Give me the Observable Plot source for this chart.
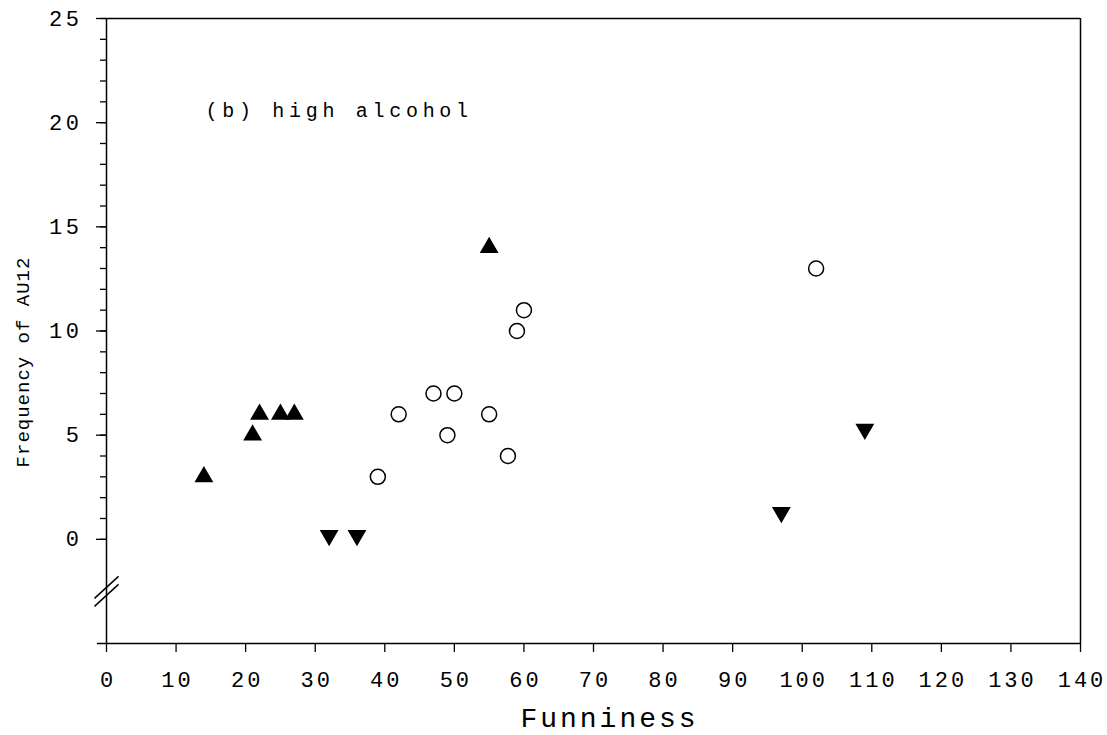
<!DOCTYPE html>
<html>
<head>
<meta charset="utf-8">
<script src="https://cdn.jsdelivr.net/npm/d3@7"></script>
<script src="https://cdn.jsdelivr.net/npm/@observablehq/plot@0.6"></script>
<style>
  html, body { margin: 0; padding: 0; background: #fff; }
  #chart svg { display: block; }
</style>
</head>
<body>
<div id="chart"></div>
<script>
// Data
const upX = [14, 21, 22, 25, 27, 55];
const upY = [3, 5, 6, 6, 6, 14];
const circleX = [39, 42, 47, 50, 49, 55, 57.7, 59, 60, 102];
const circleY = [3, 6, 7, 7, 5, 6, 4, 10, 11, 13];
const downX = [32, 36, 97, 109];
const downY = [0, 0, 1.1, 5.1];

const xTicks = d3.range(0, 141, 10);
const yTicks = d3.range(0, 26, 5);
const yMinorTicks = d3.range(0, 26, 1);
const xLabel = "Funniness";
const yLabel = "Frequency of AU12";
const panelLabel = "(b) high alcohol";
const breakAt = [{x: 0, y: -2.5}];

const toRows = (xs, ys) => xs.map((x, i) => ({x, y: ys[i]}));
const ups = toRows(upX, upY);
const circles = toRows(circleX, circleY);
const downs = toRows(downX, downY);

const FONT = "'Liberation Mono', 'Courier New', monospace";

// custom symbol for the axis break: two parallel slashes
const breakSymbol = {
  draw(ctx, size) {
    ctx.moveTo(-12, 7); ctx.lineTo(12, -15);
    ctx.moveTo(-12, 15); ctx.lineTo(12, -7);
  }
};

const chart = Plot.plot({
  width: 1107,
  height: 735,
  marginLeft: 106,
  marginRight: 27,
  marginTop: 18,
  marginBottom: 92,
  style: {fontFamily: FONT, background: "#fff", color: "#000"},
  x: {domain: [0, 140]},
  y: {domain: [-5, 25]},
  marks: [
    // frame
    Plot.ruleX([0], {stroke: "#000", strokeWidth: 1.5}),
    Plot.ruleX([140], {stroke: "#000", strokeWidth: 1.5}),
    Plot.ruleY([25], {stroke: "#000", strokeWidth: 1.5}),
    Plot.ruleY([-5], {stroke: "#000", strokeWidth: 1.5, insetLeft: -9}),
    // axis break
    Plot.dot(breakAt, {x: "x", y: "y", symbol: breakSymbol, r: 5, stroke: "#000", strokeWidth: 1.5, fill: "none"}),
    // y axis ticks
    Plot.axisY(yMinorTicks, {tickSize: 6, tickFormat: () => "", strokeWidth: 1.3, label: null}),
    Plot.axisY(yTicks, {tickSize: 10, tickPadding: 14, fontSize: 22, strokeWidth: 1.3, label: null, fill: "#000"}),
    // x axis ticks
    Plot.axisX(xTicks, {tickSize: 9, tickPadding: 19, fontSize: 22, strokeWidth: 1.3, label: null, fill: "#000"}),
    // axis titles
    Plot.text([xLabel], {frameAnchor: "bottom", dx: 16, dy: 75, fontSize: 28, textAnchor: "middle", lineAnchor: "middle", fill: "#000"}),
    Plot.text([yLabel], {frameAnchor: "left", dx: -84, dy: 31, rotate: -90, fontSize: 19, textAnchor: "middle", lineAnchor: "middle", fill: "#000"}),
    Plot.text([panelLabel], {frameAnchor: "top-left", dx: 99, dy: 92, fontSize: 20, textAnchor: "start", lineAnchor: "middle", fill: "#000"}),
    // data
    Plot.dot(circles, {x: "x", y: "y", r: 7.5, stroke: "#000", strokeWidth: 1.5, fill: "#fff"}),
    Plot.dot(ups, {x: "x", y: "y", symbol: "triangle", r: 7, fill: "#000", stroke: "none"}),
    Plot.dot(downs, {x: "x", y: "y", symbol: "triangle", rotate: 180, r: 7, dy: -4, fill: "#000", stroke: "none"})
  ]
});

// letter spacing to emulate the wide typewriter face of the original
chart.querySelectorAll("text").forEach(t => {
  const g = t.closest("g[aria-label]");
  const lab = g ? g.getAttribute("aria-label") : "";
  const s = t.textContent;
  let sp = null;
  if (lab && lab.startsWith("y-axis tick label")) sp = 3.5;
  else if (lab && lab.startsWith("x-axis tick label")) { sp = 3; t.setAttribute("dx", "1.5"); }
  else if (s === xLabel) sp = 3;
  else if (s === yLabel) sp = 1;
  else if (s === panelLabel) sp = 4.7;
  if (sp !== null) t.setAttribute("letter-spacing", sp);
});
document.getElementById("chart").appendChild(chart);
</script>
</body>
</html>
